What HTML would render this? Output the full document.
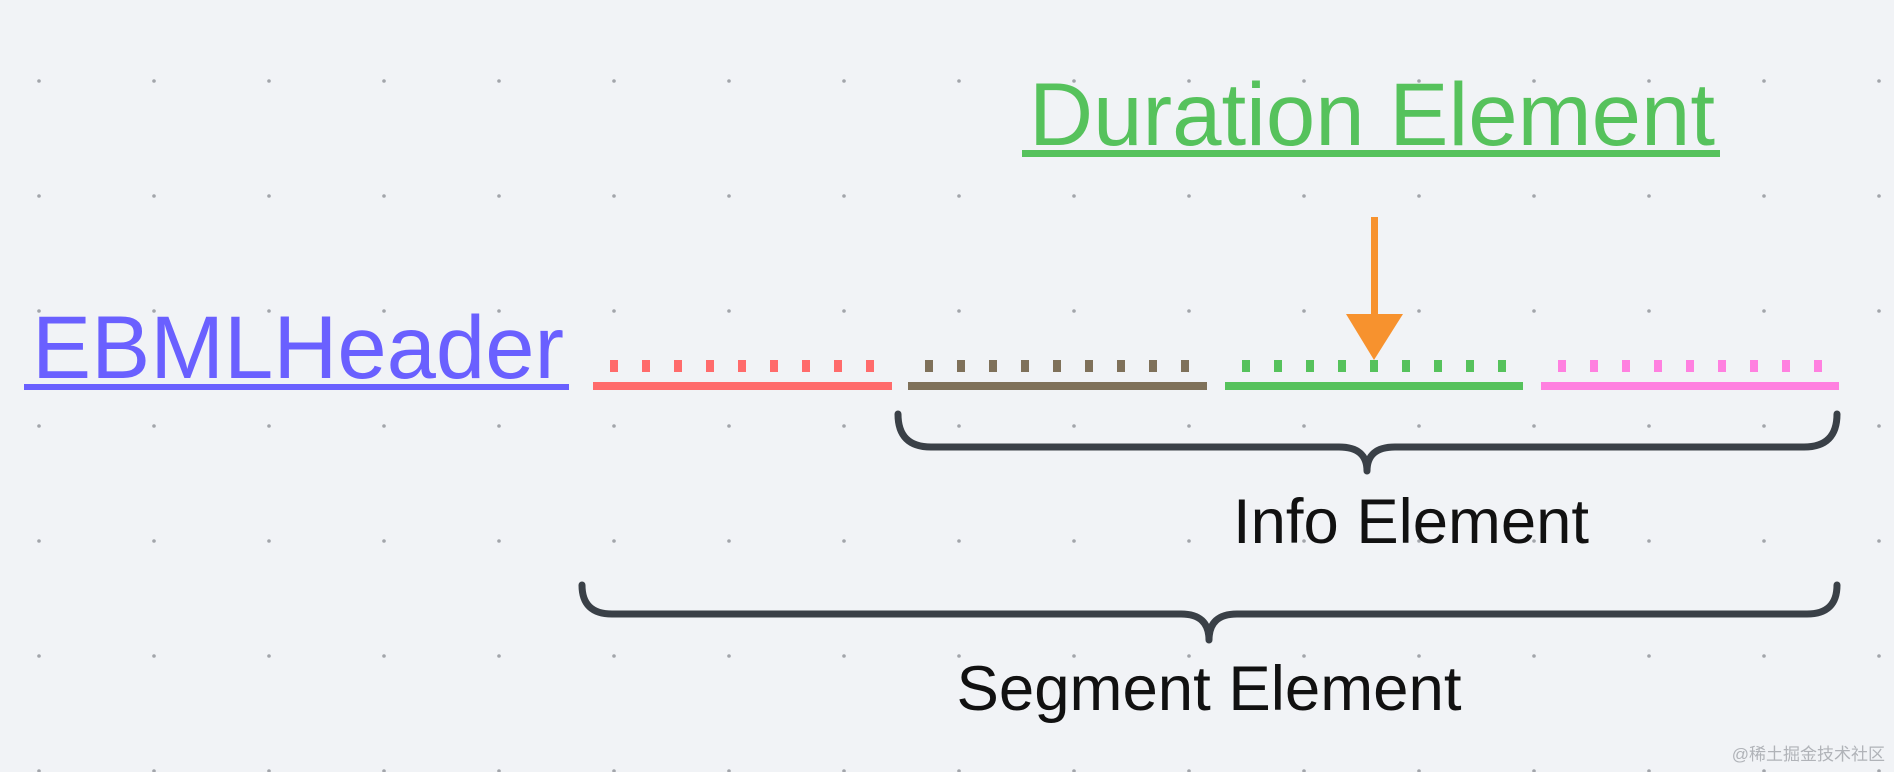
<!DOCTYPE html>
<html><head><meta charset="utf-8"><style>
html,body{margin:0;padding:0;background:#f1f3f6;}
svg{display:block;}
</style></head><body>
<svg width="1894" height="772" viewBox="0 0 1894 772" xmlns="http://www.w3.org/2000/svg">
<defs>
<pattern id="dots" x="37" y="79" width="115" height="115" patternUnits="userSpaceOnUse">
<circle cx="2" cy="2" r="1.8" fill="#a2a5aa"/>
</pattern>
</defs>
<rect width="1894" height="772" fill="#f1f3f6"/>
<rect width="1894" height="772" fill="url(#dots)"/>

<text x="32" y="378" font-family="Liberation Sans, sans-serif" font-size="89" fill="#6a60ff" textLength="532" lengthAdjust="spacingAndGlyphs">EBMLHeader</text>
<rect x="24" y="384" width="545" height="6" fill="#6a60ff"/>

<text x="1029" y="145" font-family="Liberation Sans, sans-serif" font-size="89" fill="#56c25c" textLength="686" lengthAdjust="spacingAndGlyphs">Duration Element</text>
<rect x="1022" y="150" width="698" height="7" fill="#56c25c"/>

<g>
<rect x="593" y="382" width="299" height="8" fill="#ff6b6b"/>
<rect x="908" y="382" width="299" height="8" fill="#7f715a"/>
<rect x="1225" y="382" width="298" height="8" fill="#56c25c"/>
<rect x="1541" y="382" width="298" height="8" fill="#ff80e0"/>
</g>
<g fill="#ff6b6b">
<rect x="610" y="360" width="8" height="12"/><rect x="642" y="360" width="8" height="12"/><rect x="674" y="360" width="8" height="12"/><rect x="706" y="360" width="8" height="12"/><rect x="738" y="360" width="8" height="12"/><rect x="770" y="360" width="8" height="12"/><rect x="802" y="360" width="8" height="12"/><rect x="834" y="360" width="8" height="12"/><rect x="866" y="360" width="8" height="12"/>
</g>
<g fill="#7f715a">
<rect x="925" y="360" width="8" height="12"/><rect x="957" y="360" width="8" height="12"/><rect x="989" y="360" width="8" height="12"/><rect x="1021" y="360" width="8" height="12"/><rect x="1053" y="360" width="8" height="12"/><rect x="1085" y="360" width="8" height="12"/><rect x="1117" y="360" width="8" height="12"/><rect x="1149" y="360" width="8" height="12"/><rect x="1181" y="360" width="8" height="12"/>
</g>
<g fill="#56c25c">
<rect x="1242" y="360" width="8" height="12"/><rect x="1274" y="360" width="8" height="12"/><rect x="1306" y="360" width="8" height="12"/><rect x="1338" y="360" width="8" height="12"/><rect x="1370" y="360" width="8" height="12"/><rect x="1402" y="360" width="8" height="12"/><rect x="1434" y="360" width="8" height="12"/><rect x="1466" y="360" width="8" height="12"/><rect x="1498" y="360" width="8" height="12"/>
</g>
<g fill="#ff80e0">
<rect x="1558" y="360" width="8" height="12"/><rect x="1590" y="360" width="8" height="12"/><rect x="1622" y="360" width="8" height="12"/><rect x="1654" y="360" width="8" height="12"/><rect x="1686" y="360" width="8" height="12"/><rect x="1718" y="360" width="8" height="12"/><rect x="1750" y="360" width="8" height="12"/><rect x="1782" y="360" width="8" height="12"/><rect x="1814" y="360" width="8" height="12"/>
</g>

<rect x="1371" y="217" width="7" height="100" fill="#f7922e"/>
<polygon points="1346,314 1403,314 1374,360" fill="#f7922e"/>

<path d="M898,414 Q898,447 931,447 L1339,447 Q1367,447 1367,471 Q1367,447 1395,447 L1804,447 Q1837,447 1837,414" fill="none" stroke="#3a4047" stroke-width="7" stroke-linecap="round" stroke-linejoin="round"/>
<path d="M582,585 Q582,614 612,614 L1181,614 Q1209,614 1209,640 Q1209,614 1237,614 L1807,614 Q1837,614 1837,585" fill="none" stroke="#3a4047" stroke-width="7" stroke-linecap="round" stroke-linejoin="round"/>

<text x="1411" y="543" text-anchor="middle" font-family="Liberation Sans, sans-serif" font-size="63" fill="#111" textLength="356" lengthAdjust="spacingAndGlyphs">Info Element</text>
<text x="1209" y="710" text-anchor="middle" font-family="Liberation Sans, sans-serif" font-size="63" fill="#111" textLength="505" lengthAdjust="spacingAndGlyphs">Segment Element</text>

<text x="1885" y="760" text-anchor="end" font-family="Liberation Sans, 'Noto Sans CJK SC', sans-serif" font-size="17" fill="#b0b3b8">@稀土掘金技术社区</text>
</svg>
</body></html>
